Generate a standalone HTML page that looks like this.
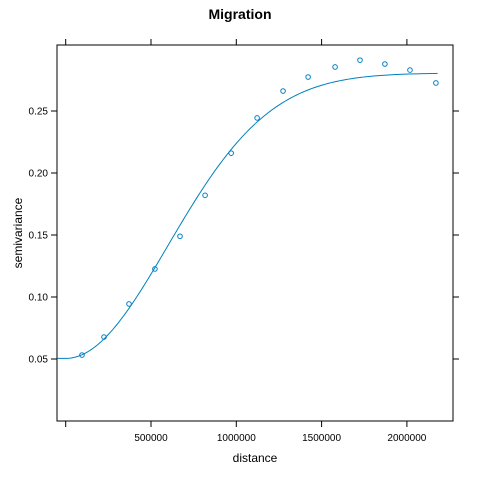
<!DOCTYPE html>
<html><head><meta charset="utf-8"><style>
body{margin:0;background:#fff;}
svg{display:block;font-family:"Liberation Sans",Arial,sans-serif;}
</style></head><body>
<svg id="chart" width="480" height="480">
<text x="240" y="19" text-anchor="middle" font-size="14" font-weight="bold">Migration</text>
<rect x="57" y="45" width="396" height="376" fill="none" stroke="#000" stroke-width="1"/>
<g id="axes"></g>
<g id="marks"></g>
<text x="255" y="462" text-anchor="middle" font-size="12">distance</text>
<text x="22" y="233" text-anchor="middle" font-size="12" transform="rotate(-90 22 233)">semivariance</text>
</svg>
<script>
const distances=[95500,224500,371000,523000,670000,817000,970000,1122000,1274000,1421000,1579000,1725000,1871000,2018000,2170000];
const gammas=[0.0532,0.0677,0.0944,0.1226,0.149,0.182,0.216,0.2444,0.2661,0.2774,0.2855,0.291,0.2879,0.283,0.2726];
const xTicks=[0,500000,1000000,1500000,2000000];
const yTicks=[0.05,0.10,0.15,0.20,0.25];
const modelNugget=[0.0505];
const modelSill=[0.2806];
const modelRange=[845000];

const NS="http://www.w3.org/2000/svg";
const X=v=>65.7+v/500000*85.3;
const Y=v=>359-(v-0.05)*1240;
function mk(tag,attrs,parent){const e=document.createElementNS(NS,tag);for(const k in attrs)e.setAttribute(k,attrs[k]);parent.appendChild(e);return e;}
const axes=document.getElementById('axes'),marks=document.getElementById('marks');
xTicks.forEach(t=>{
  const x=X(t);
  const a=mk('line',{x1:x,x2:x,y1:421,y2:427,stroke:'#000'},axes);
  
  
  const b=mk('line',{x1:x,x2:x,y1:45,y2:39,stroke:'#000'},axes);
  
  
  if(t>0){const l=mk('text',{x:x,y:441,'text-anchor':'middle','font-size':'10'},axes);l.textContent=t;
  
  }
});
yTicks.forEach(t=>{
  const y=Y(t);
  const a=mk('line',{x1:51,x2:57,y1:y,y2:y,stroke:'#000'},axes);
  
  
  const b=mk('line',{x1:453,x2:459,y1:y,y2:y,stroke:'#000'},axes);
  
  
  const l=mk('text',{x:48,y:y+3.5,'text-anchor':'end','font-size':'10'},axes);l.textContent=t.toFixed(2);
  
  
});
let d='';
for(let i=0;i<=200;i++){const h=-50000+i*(2180000+50000)/200;
  const hh=Math.max(h,0);
  const g=modelNugget[0]+(modelSill[0]-modelNugget[0])*(1-Math.exp(-Math.pow(hh/modelRange[0],2)));
  d+=(i?'L':'M')+X(h).toFixed(2)+','+Y(g).toFixed(2);}
const p=mk('path',{d:d,fill:'none',stroke:'#0080c0','stroke-width':'1'},marks);


distances.forEach((h,i)=>{
  const c=mk('circle',{cx:X(h),cy:Y(gammas[i]),r:2.3,fill:'none',stroke:'#0080c0','stroke-width':'1'},marks);
  
  
});
</script>
</body></html>
